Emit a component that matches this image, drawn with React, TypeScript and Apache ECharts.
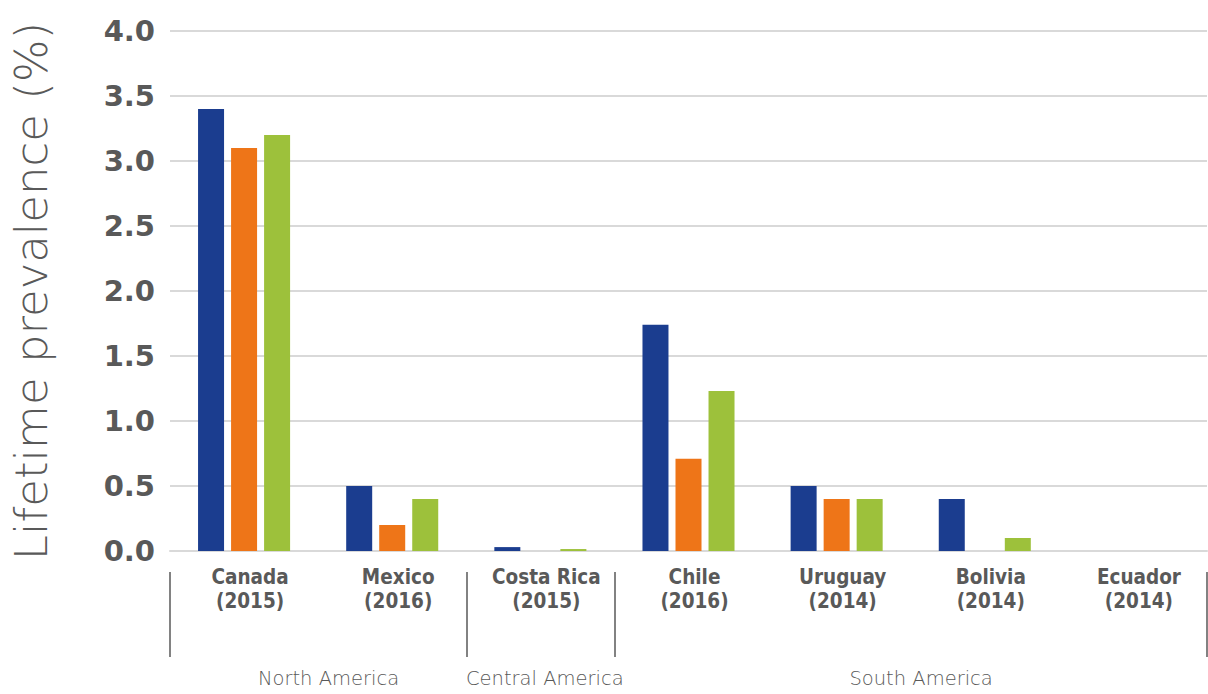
import React, { useEffect, useRef } from "react";
import * as echarts from "echarts";

const categories = ["Canada\n(2015)", "Mexico\n(2016)", "Costa Rica\n(2015)", "Chile\n(2016)", "Uruguay\n(2014)", "Bolivia\n(2014)", "Ecuador\n(2014)"];
const seriesA = [3.4, 0.5, 0.03, 1.74, 0.5, 0.4, 0];
const seriesB = [3.1, 0.2, 0, 0.71, 0.4, 0, 0];
const seriesC = [3.2, 0.4, 0.015, 1.23, 0.4, 0.1, 0];
const regionNames = ["North America", "Central America", "South America"];
const regionBounds = [0, 2, 3, 7];
const regionLabelAt = [1.07, 2.53, 5.07];
const yTitle = "Lifetime prevalence (%)";

const GRAY = "#595959";
const BOLD_FONT = "'DejaVu Sans Condensed', 'DejaVu Sans', sans-serif";
const LIGHT_FONT = "'DejaVu Sans', sans-serif";

export default function App() {
  const ref = useRef<HTMLDivElement>(null);
  useEffect(() => {
    if (!ref.current) return;
    const chart = echarts.init(ref.current, null, { renderer: "svg" });
    chart.setOption({
      animation: false,
      grid: { left: 170, right: 1, top: 31, bottom: 143, containLabel: false, outerBoundsMode: "none" },
      xAxis: [
        {
          type: "category",
          data: categories,
          axisLine: { show: true, lineStyle: { color: "#d9d9d9", width: 2 } },
          axisTick: { show: false },
          axisLabel: {
            color: GRAY,
            fontFamily: BOLD_FONT,
            fontWeight: "bold",
            fontSize: 20.5,
            lineHeight: 24,
            margin: 14,
            padding: [0, 0, 0, 12],
            interval: 0,
          },
        },
        {
          type: "value",
          position: "bottom",
          offset: 21,
          min: 0,
          max: 7,
          splitLine: { show: false },
          axisLine: { show: false },
          axisTick: {
            show: true,
            customValues: regionBounds,
            length: 85,
            lineStyle: { color: GRAY, width: 1.5 },
          },
          axisLabel: {
            customValues: regionLabelAt,
            formatter: (v: number) => regionNames[regionLabelAt.indexOf(v)] ?? "",
            color: GRAY,
            fontFamily: LIGHT_FONT,
            fontWeight: 200,
            fontSize: 19.5,
            margin: 96,
            verticalAlign: "top",
          },
        },
      ],
      yAxis: {
        type: "value",
        min: 0,
        max: 4,
        interval: 0.5,
        name: yTitle,
        nameLocation: "middle",
        nameRotate: 90,
        nameGap: 116,
        nameTextStyle: {
          color: GRAY,
          fontFamily: LIGHT_FONT,
          fontWeight: 200,
          fontSize: 45,
          lineHeight: 46,
        },
        axisLine: { show: false },
        axisTick: { show: false },
        splitLine: { lineStyle: { color: "#d9d9d9", width: 2 } },
        axisLabel: {
          color: GRAY,
          fontFamily: "'DejaVu Sans', sans-serif",
          fontWeight: "bold",
          fontSize: 29,
          margin: 15,
          formatter: (v: number) => v.toFixed(1),
        },
      },
      series: [
        { type: "bar", name: "A", data: seriesA, barWidth: 26, barGap: "27%", itemStyle: { color: "#1b3d8f" } },
        { type: "bar", name: "B", data: seriesB, barWidth: 26, barGap: "27%", itemStyle: { color: "#ee7518" } },
        { type: "bar", name: "C", data: seriesC, barWidth: 26, barGap: "27%", itemStyle: { color: "#9dc13b" } },
      ],
    });
    return () => chart.dispose();
  }, []);
  return <div ref={ref} style={{ width: 1208, height: 694, position: "absolute", left: 0, top: 0 }} />;
}
